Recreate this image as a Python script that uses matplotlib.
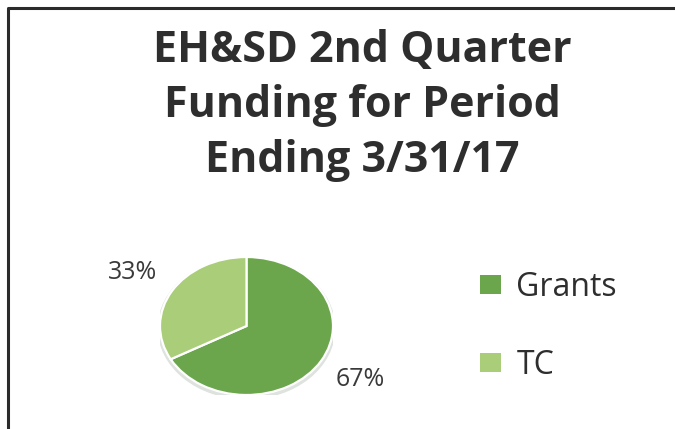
import matplotlib
matplotlib.use("Agg")
import matplotlib.pyplot as plt
from matplotlib.patches import Ellipse

# funding split, percent
categories = ["Grants", "TC"]
shares = [67, 33]
colors = ["#6ba64c", "#a9cd79"]
title_lines = ["EH&SD 2nd Quarter", "Funding for Period", "Ending 3/31/17"]

FONT = "Open Sans"
W, H = 675, 429
fig = plt.figure(figsize=(W / 100, H / 100), dpi=100)
fig.patch.set_facecolor("white")

# frame: only the top and left edges show
frame = fig.add_axes([0, 0, 1, 1], zorder=-5)
frame.set_xlim(0, W); frame.set_ylim(H, 0); frame.axis("off")
frame.plot([7.5, 7.5, W + 10], [H + 10, 8, 8], color="#2b2b2b", lw=2.2)

# title, one text per line
for i, line in enumerate(title_lines):
    fig.text(362 / W, 1 - (62 + 55 * i) / H, line, ha="center", va="baseline",
             fontsize=31, fontweight="bold", family=FONT, color="#2e2e2e")

# pie squashed into an ellipse
cx, cy, rx, ry = 246.5, 326, 86.5, 69
ax = fig.add_axes([(cx - rx) / W, 1 - (cy + ry) / H, 2 * rx / W, 2 * ry / H])
rim = Ellipse((0.0, -0.03), 2.04, 2.05, color="#dfe3df", zorder=0)
ax.add_patch(rim)
wedges, _, pct = ax.pie(shares, colors=colors, startangle=90, counterclock=False,
                        autopct="%.0f%%", pctdistance=1.53,
                        wedgeprops=dict(edgecolor="white", linewidth=1.6),
                        textprops=dict(fontsize=18, family=FONT, color="#3a3a3a"))
ax.set_aspect("auto")
ax.set_xlim(-1, 1); ax.set_ylim(-1, 1)
for t in pct:
    t.set_clip_on(False)

leg = fig.legend(wedges, categories, loc="upper left",
                 bbox_to_anchor=(451 / W, 1 - 242 / H), frameon=False,
                 prop=dict(family=FONT, size=23), handlelength=0.65,
                 handleheight=0.5, handletextpad=0.5, labelspacing=1.41)
for t in leg.get_texts():
    t.set_color("#2e2e2e")
for h in leg.legend_handles:
    h.set_edgecolor("none")

fig.savefig("out.png", dpi=100, facecolor="white")
